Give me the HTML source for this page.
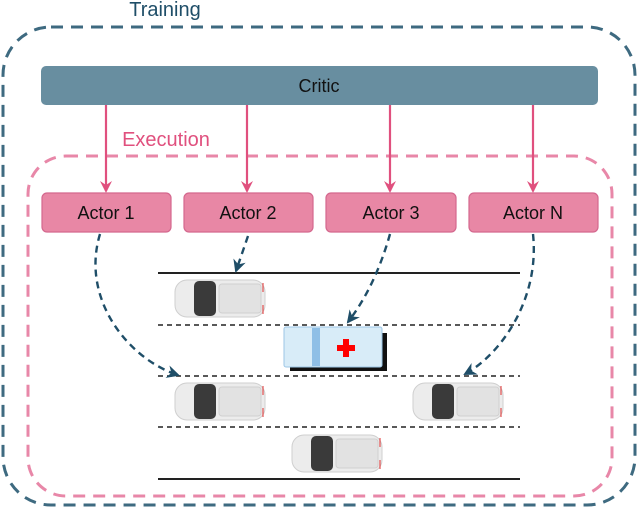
<!DOCTYPE html>
<html><head><style>body{margin:0;background:#fff;}svg{display:block}</style></head>
<body>
<svg width="640" height="509" viewBox="0 0 640 509" xmlns="http://www.w3.org/2000/svg" font-family="Liberation Sans, sans-serif">
<defs>
<marker id="pa" markerWidth="12" markerHeight="12" refX="10" refY="6" orient="auto" markerUnits="userSpaceOnUse"><path d="M0,0 L12,6 L0,12 L4,6 z" fill="#e0507e"/></marker>
<marker id="ba" markerWidth="13" markerHeight="13" refX="11" refY="6.5" orient="auto" markerUnits="userSpaceOnUse"><path d="M0,0 L13,6.5 L0,13 L4,6.5 z" fill="#1f4e68"/></marker>
<g id="car">
<rect x="0" y="0" width="90" height="37" rx="12" fill="#ececec" stroke="#cfcfcf"/>
<rect x="19" y="1" width="22" height="35" rx="5" fill="#3a3a3a"/>
<rect x="44" y="4" width="42" height="29" rx="3" fill="#e2e2e2" stroke="#d0d0d0"/>
<line x1="88" y1="3" x2="88" y2="12" stroke="#e03030"/><line x1="88" y1="25" x2="88" y2="34" stroke="#e03030"/>
</g>
</defs>
<rect x="3" y="27" width="632" height="478" rx="48" fill="none" stroke="#3e6a80" stroke-width="3" stroke-dasharray="12,8"/>
<text x="165" y="16" font-size="20" fill="#1f4e68" text-anchor="middle">Training</text>
<rect x="41" y="66" width="557" height="39" rx="5" fill="#688ea0"/>
<text x="319" y="92" font-size="18" fill="#111" text-anchor="middle">Critic</text>
<rect x="28" y="156" width="584" height="340" rx="38" fill="none" stroke="#e887a8" stroke-width="3" stroke-dasharray="12,8"/>
<text x="166" y="146" font-size="20" fill="#e0507e" text-anchor="middle">Execution</text>
<g stroke="#e0507e" stroke-width="2.2" marker-end="url(#pa)">
<line x1="106" y1="105" x2="106" y2="191"/><line x1="247" y1="105" x2="247" y2="191"/>
<line x1="390" y1="105" x2="390" y2="191"/><line x1="533" y1="105" x2="533" y2="191"/>
</g>
<g fill="#e887a5" stroke="#d4688e" stroke-width="1.2">
<rect x="42" y="193" width="129" height="39" rx="5"/><rect x="184" y="193" width="129" height="39" rx="5"/>
<rect x="326" y="193" width="130" height="39" rx="5"/><rect x="469" y="193" width="129" height="39" rx="5"/>
</g>
<g font-size="18" fill="#111" text-anchor="middle">
<text x="106" y="219">Actor 1</text><text x="248" y="219">Actor 2</text><text x="391" y="219">Actor 3</text><text x="533" y="219">Actor N</text>
</g>
<line x1="158" y1="273" x2="520" y2="273" stroke="#222" stroke-width="2"/>
<line x1="158" y1="479" x2="520" y2="479" stroke="#222" stroke-width="2"/>
<g stroke="#222" stroke-width="1.5" stroke-dasharray="5,4">
<line x1="158" y1="325" x2="520" y2="325"/><line x1="158" y1="376" x2="520" y2="376"/><line x1="158" y1="427" x2="520" y2="427"/>
</g>
<use href="#car" x="175" y="280"/><use href="#car" x="175" y="383"/><use href="#car" x="413" y="383"/><use href="#car" x="292" y="435"/>
<rect x="290" y="333" width="97" height="38" fill="#111"/>
<rect x="284" y="327" width="98" height="40" rx="2" fill="#d8ecf8" stroke="#9cc6e6"/>
<rect x="312" y="328" width="8" height="38" fill="#8fbfe6"/>
<rect x="343" y="339" width="6" height="18" fill="#f00"/><rect x="337" y="345" width="18" height="6" fill="#f00"/>
<g fill="none" stroke="#1f4e68" stroke-width="2.4" stroke-dasharray="7,5" marker-end="url(#ba)">
<path d="M100,234 C80,300 130,360 178,375"/>
<path d="M248,236 L236,271"/>
<path d="M390,234 C380,270 365,300 348,322"/>
<path d="M533,234 C540,300 500,355 465,374"/>
</g>
</svg>
</body></html>
